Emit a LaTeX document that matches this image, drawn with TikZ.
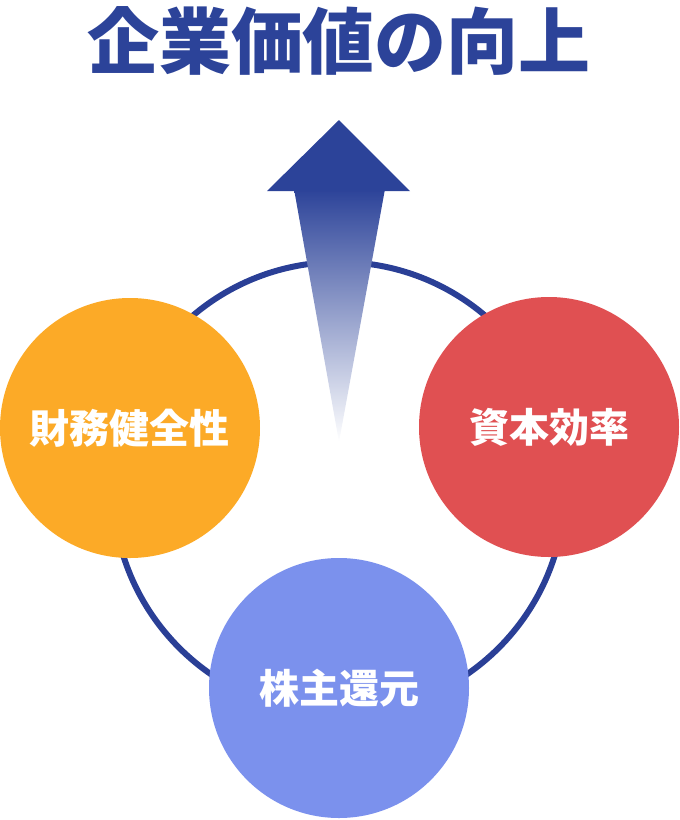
\documentclass[tikz,border=0pt]{standalone}
\usepackage{fontspec}
\newfontfamily\cjk{Noto Sans CJK JP}
\usetikzlibrary{positioning}
\definecolor{kon}{HTML}{2C4399}
\definecolor{wakon}{HTML}{2A3F96}
\definecolor{orenji}{HTML}{FCAA27}
\definecolor{aka}{HTML}{E05052}
\definecolor{fuji}{HTML}{7B91ED}
\tikzset{
  pillar/.style={circle, minimum size=260pt, inner sep=0pt, text=white,
    font=\cjk\bfseries\fontsize{40}{40}\selectfont}
}

\begin{document}
\begin{tikzpicture}[x=1pt,y=-1pt]
\useasboundingbox (0,0) rectangle (680,820);
\node[kon, font=\cjk\bfseries\fontsize{72}{72}\selectfont] (title) at (339,41) {企業価値の向上};
% ring behind the three pillars
\draw[wakon, line width=6pt] (339,488) circle (226pt);
\node[pillar, fill=orenji] (zaimu) at (130,428) {財務健全性};
\node[pillar, fill=aka] (shihon) at (549,427) {資本効率};
\node[pillar, fill=fuji] (kangen) at (339,688) {株主還元};
% rising arrow
\shade[top color=kon, bottom color=white] (294,189) -- (385,189) -- (339,442) -- cycle;
\fill[kon] (267,191) -- (339,120) -- (410,191) -- cycle;
\end{tikzpicture}
\end{document}
